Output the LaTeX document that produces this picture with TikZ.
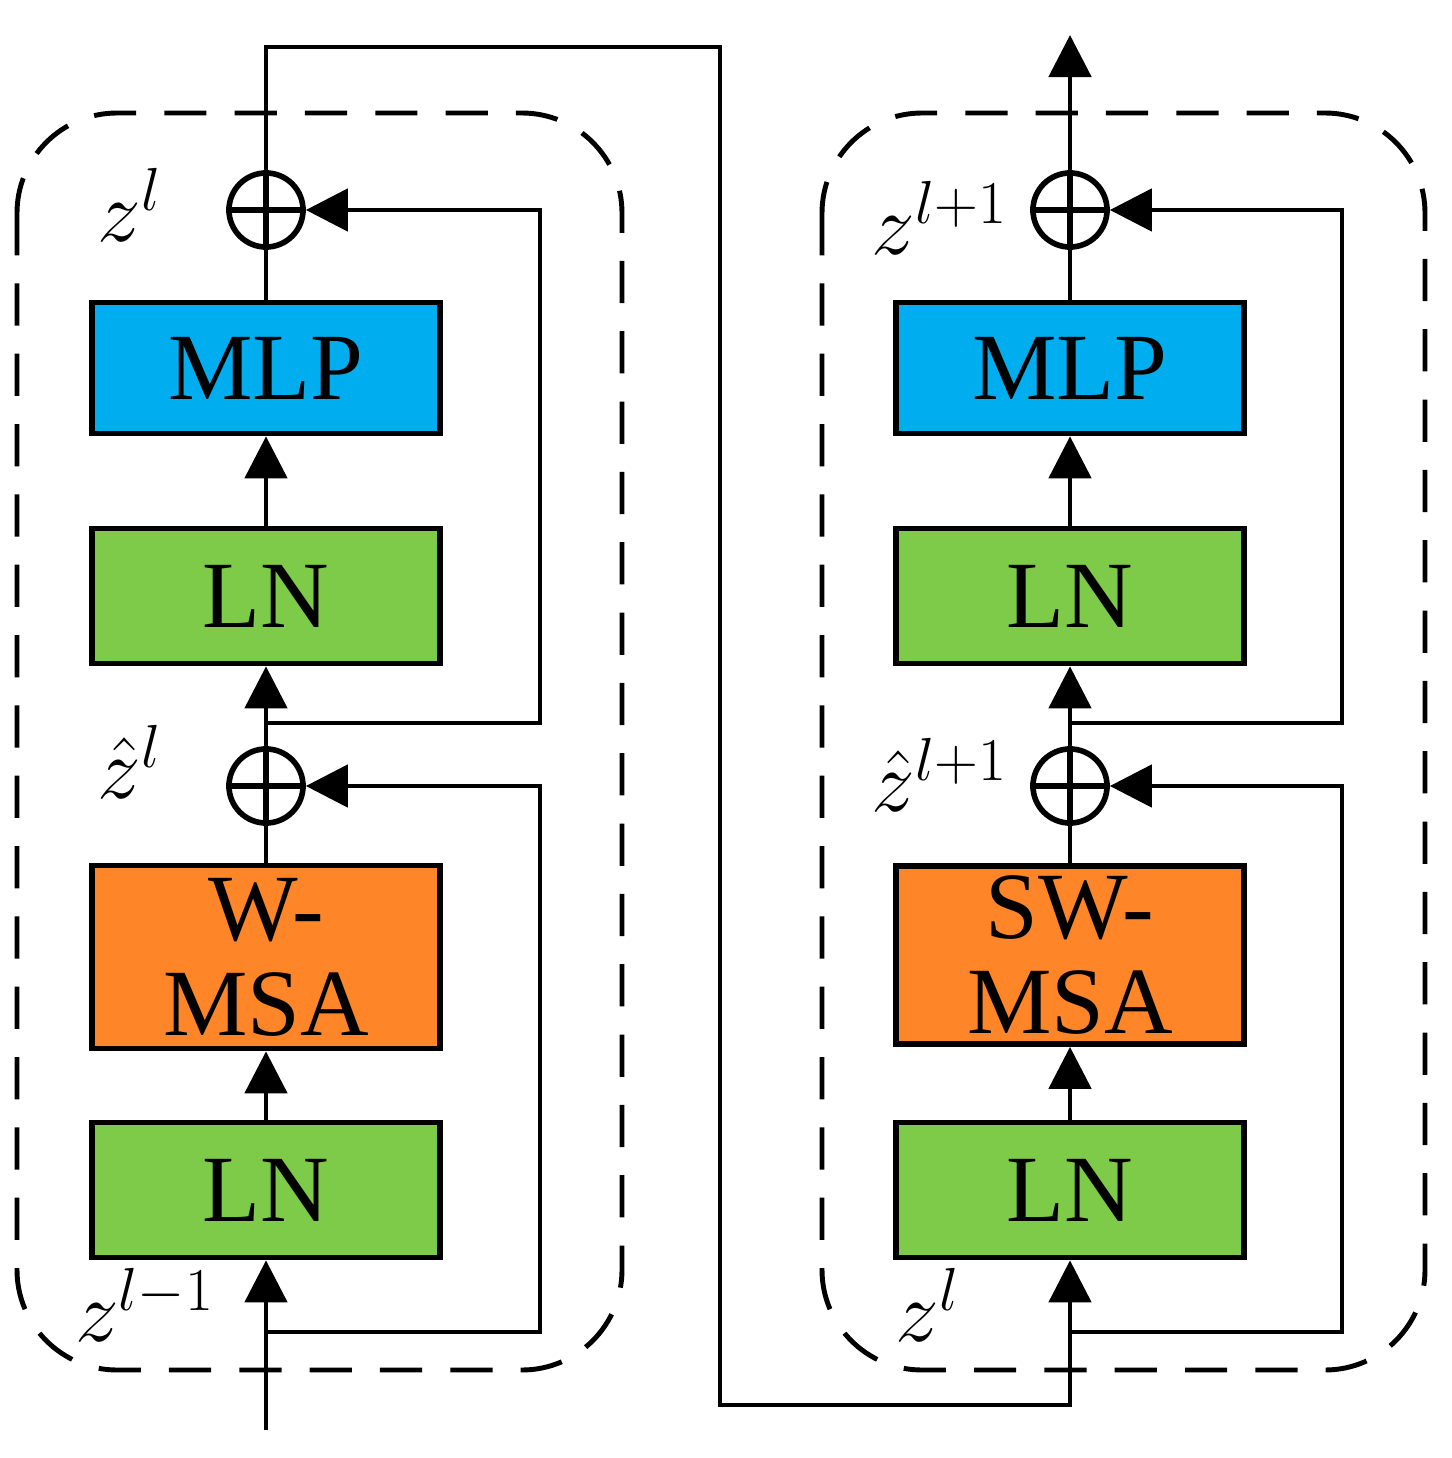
\documentclass[tikz,border=0pt]{standalone}
\usepackage{fontspec}
\setmainfont{Liberation Serif}
\usetikzlibrary{arrows.meta}
\definecolor{mlpblue}{RGB}{0,174,239}
\definecolor{lngreen}{RGB}{125,203,72}
\definecolor{msaorange}{RGB}{255,133,41}
\tikzstyle{block}=[draw,line width=1.6pt,minimum width=3.48cm,inner sep=0pt,align=center,font=\fontsize{27}{27}\selectfont]
\tikzstyle{add}=[draw,circle,line width=1.6pt,minimum size=0.74cm,inner sep=0pt]
\tikzstyle{frame}=[dashed,line width=1.4pt,rounded corners=1cm,dash pattern=on 12pt off 8pt]
\tikzstyle{flow}=[line width=1.4pt]
\tikzstyle{tip}=[-{Triangle[length=0.42cm,width=0.42cm]}]
\tikzstyle{lab}=[inner sep=1pt,font=\fontsize{24}{26}\selectfont]

\begin{document}
\begin{tikzpicture}[x=0.01cm,y=-0.01cm,flow]
			\useasboundingbox (0,0) rectangle (1451,1458);
			% Rahmen zeichnen
			\draw[frame] (17,113) rectangle (622,1370);
			\draw[frame] (822,113) rectangle (1425,1370);
			% Bloecke links
			\node[block,fill=lngreen,minimum height=1.35cm] (ln1) at (266,1190) {LN};
			\node[block,fill=msaorange,minimum height=1.83cm] (msa1) at (266,957) {W-\\MSA};
			\node[block,fill=lngreen,minimum height=1.35cm] (ln2) at (266,596) {LN};
			\node[block,fill=mlpblue,minimum height=1.31cm] (mlp1) at (266,368) {MLP};
			\node[add] (adda1) at (266,786) {};
			\node[add] (addb1) at (266,210) {};
			% Bloecke rechts
			\node[block,fill=lngreen,minimum height=1.35cm] (ln3) at (1070,1190) {LN};
			\node[block,fill=msaorange,minimum height=1.78cm] (msa2) at (1070,955) {SW-\\MSA};
			\node[block,fill=lngreen,minimum height=1.35cm] (ln4) at (1070,596) {LN};
			\node[block,fill=mlpblue,minimum height=1.31cm] (mlp2) at (1070,368) {MLP};
			\node[add] (adda2) at (1070,786) {};
			\node[add] (addb2) at (1070,210) {};
			% Plus-Zeichen
			\foreach \n in {adda1,addb1,adda2,addb2}
				\draw[line width=1.6pt] (\n.north) -- (\n.south) (\n.west) -- (\n.east);
			% Koordinaten
			\coordinate (in) at (266,1430);
			\coordinate (out) at (1070,35);
			\coordinate (s1) at (266,1332);
			\coordinate (s2) at (266,723);
			\coordinate (s3) at (1070,1332);
			\coordinate (s4) at (1070,723);
			% Verbindungen links
			\draw[tip] (in) -- (ln1);
			\draw[tip] (ln1) -- (msa1);
			\draw (msa1) -- (adda1);
			\draw[tip] (adda1) -- (ln2);
			\draw[tip] (ln2) -- (mlp1);
			\draw (mlp1) -- (addb1);
			\draw[tip] (s1) -| (540,786) -- (adda1);
			\draw[tip] (s2) -| (540,210) -- (addb1);
			% Verbindung zwischen den Bloecken
			\draw[tip] (addb1) |- (720,47) |- (1070,1405) -- (ln3);
			% Verbindungen rechts
			\draw[tip] (ln3) -- (msa2);
			\draw (msa2) -- (adda2);
			\draw[tip] (adda2) -- (ln4);
			\draw[tip] (ln4) -- (mlp2);
			\draw (mlp2) -- (addb2);
			\draw[tip] (addb2) -- (out);
			\draw[tip] (s3) -| (1342,786) -- (adda2);
			\draw[tip] (s4) -| (1342,210) -- (addb2);
			% Beschriftungen
			\node[lab] (l1) at (130,205) {$z^l$};
			\node[lab] (l2) at (130,762) {$\hat{z}^l$};
			\node[lab] (l3) at (145,1305) {$z^{l-1}$};
			\node[lab] (l4) at (940,218) {$z^{l+1}$};
			\node[lab] (l5) at (940,775) {$\hat{z}^{l+1}$};
			\node[lab] (l6) at (928,1305) {$z^l$};
		\end{tikzpicture}
\end{document}
